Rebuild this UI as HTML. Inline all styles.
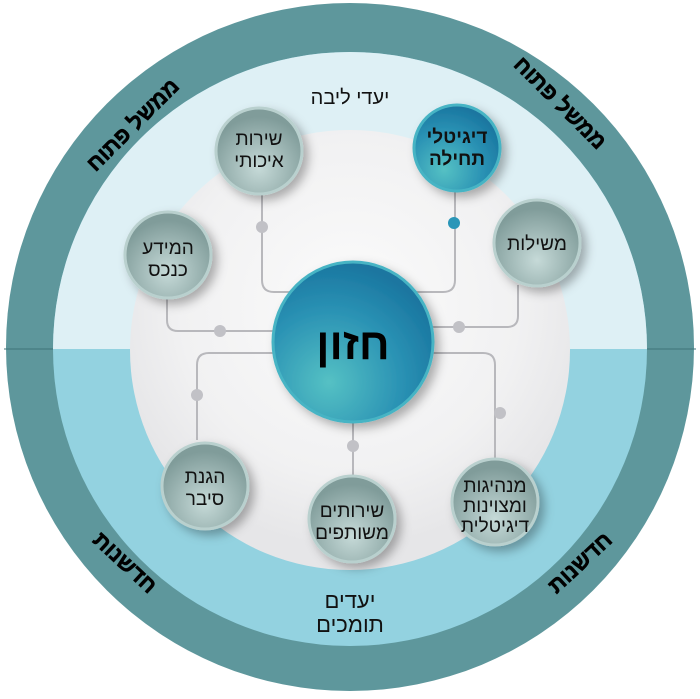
<!DOCTYPE html>
<html><head><meta charset="utf-8"><style>
html,body{margin:0;padding:0;background:#fff;width:700px;height:699px;overflow:hidden}
svg{display:block}
text{font-family:"Liberation Sans","Noto Sans CJK SC",sans-serif;}
</style></head><body>
<svg width="700" height="699" viewBox="0 0 700 699" xmlns="http://www.w3.org/2000/svg">
<defs>
<radialGradient id="gray" cx="0.5" cy="0.4" r="0.55"><stop offset="0" stop-color="#fbfbfb"/><stop offset="0.7" stop-color="#f1f1f2"/><stop offset="1" stop-color="#e6e6e8"/></radialGradient>
<radialGradient id="node" cx="0.5" cy="0.7" r="0.6"><stop offset="0" stop-color="#c6dad8"/><stop offset="1" stop-color="#809c9a"/></radialGradient>
<radialGradient id="blue" cx="0.35" cy="0.75" r="0.75"><stop offset="0" stop-color="#55c1c4"/><stop offset="0.6" stop-color="#2a92b4"/><stop offset="1" stop-color="#1a76a0"/></radialGradient>
<clipPath id="top"><rect x="0" y="0" width="700" height="349"/></clipPath>
<filter id="sh" x="-30%" y="-30%" width="160%" height="160%"><feDropShadow dx="5" dy="5" stdDeviation="5" flood-color="#000" flood-opacity="0.3"/></filter>
</defs>
<circle cx="350" cy="347" r="344" fill="#5e979c"/>
<circle cx="350" cy="349" r="297" fill="#93d2e0"/>
<circle cx="350" cy="349" r="297" fill="#def0f5" clip-path="url(#top)"/>
<line x1="4" y1="349" x2="53" y2="349" stroke="#3f7378" stroke-width="1"/>
<line x1="647" y1="349" x2="696" y2="349" stroke="#3f7378" stroke-width="1"/>
<circle cx="350" cy="350" r="220" fill="url(#gray)"/>
<g fill="none" stroke="#b8b8bc" stroke-width="2">
<path d="M262 193 V280 Q262 292 274 292 H300"/>
<path d="M455 190 V280 Q455 292 443 292 H410"/>
<path d="M167 297 V320 Q167 331 178 331 H280"/>
<path d="M518 285 V316 Q518 327 507 327 H425"/>
<path d="M197 440 V365 Q197 353 209 353 H280"/>
<path d="M495 460 V365 Q495 353 483 353 H425"/>
<path d="M353 420 V478"/>
</g>
<g fill="#c1c1c6">
<circle cx="262" cy="227" r="6"/><circle cx="220" cy="331" r="6"/><circle cx="459" cy="327" r="6"/>
<circle cx="197" cy="395" r="6"/><circle cx="353" cy="446" r="6"/><circle cx="500" cy="413" r="6"/>
</g>
<circle cx="454" cy="223" r="6" fill="#2a96b8"/>
<circle cx="353" cy="342" r="80" fill="url(#blue)" stroke="#46b4c4" stroke-width="3" filter="url(#sh)"/>
<text x="353" y="359" text-anchor="middle" font-size="44" font-weight="bold" fill="#000">חזון</text>
<g filter="url(#sh)">
<circle cx="259" cy="151" r="43" fill="url(#node)" stroke="#b9d0ce" stroke-width="3"/>
<circle cx="457" cy="148" r="43" fill="url(#blue)" stroke="#46b4c4" stroke-width="3"/>
<circle cx="537" cy="243" r="43" fill="url(#node)" stroke="#b9d0ce" stroke-width="3"/>
<circle cx="168" cy="255" r="43" fill="url(#node)" stroke="#b9d0ce" stroke-width="3"/>
<circle cx="205" cy="486" r="43" fill="url(#node)" stroke="#b9d0ce" stroke-width="3"/>
<circle cx="352" cy="519" r="43" fill="url(#node)" stroke="#b9d0ce" stroke-width="3"/>
<circle cx="495" cy="502" r="43" fill="url(#node)" stroke="#b9d0ce" stroke-width="3"/>
</g>
<g text-anchor="middle" font-size="19" fill="#111">
<text x="259" y="145">שירות</text><text x="259" y="167">איכותי</text>
<text x="457" y="143" font-weight="bold">דיגיטלי</text><text x="457" y="165" font-weight="bold">תחילה</text>
<text x="537" y="250">משילות</text>
<text x="168" y="254">המידע</text><text x="168" y="276">כנכס</text>
<text x="205" y="483">הגנת</text><text x="205" y="505">סיבר</text>
<text x="352" y="517">שירותים</text><text x="352" y="539">משותפים</text>
<text x="495" y="492">מנהיגות</text><text x="495" y="512">ומצוינות</text><text x="495" y="532">דיגיטלית</text>
<text x="350" y="104" font-size="20">יעדי ליבה</text>
<text x="350" y="608" font-size="22">יעדים</text><text x="350" y="632" font-size="22">תומכים</text>
</g>
<g font-size="22" font-weight="bold" fill="#000" text-anchor="middle" stroke="#000" stroke-width="0.6">
<text transform="translate(138,130) rotate(-45)">ממשל פתוח</text>
<text transform="translate(555,108) rotate(45)">ממשל פתוח</text>
<text transform="translate(120,568) rotate(43)">חדשנות</text>
<text transform="translate(585,568) rotate(-43)">חדשנות</text>
</g>
</svg>
</body></html>
